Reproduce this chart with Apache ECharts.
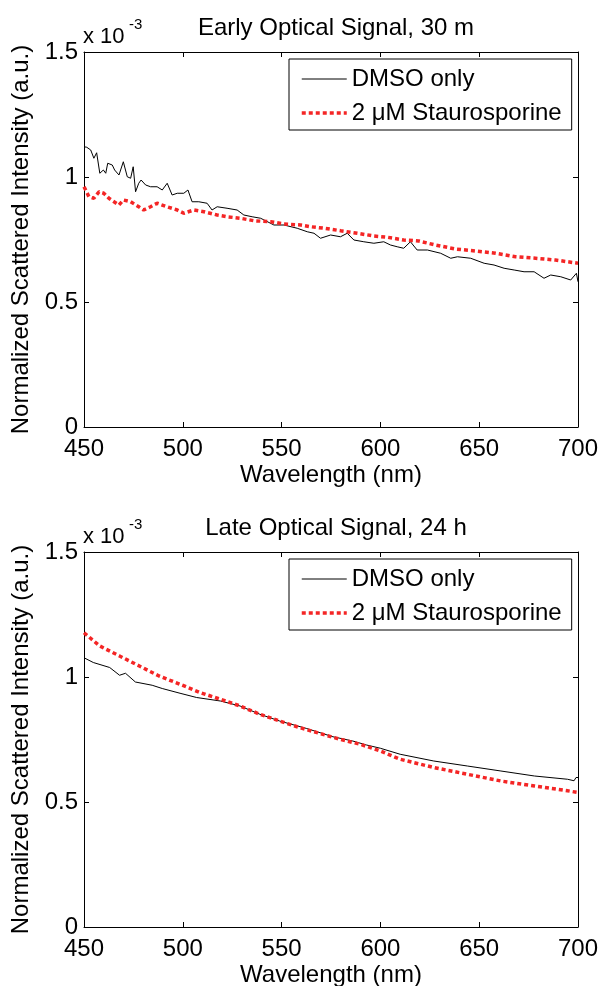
<!DOCTYPE html>
<html><head><meta charset="utf-8">
<script src="https://cdn.jsdelivr.net/npm/echarts@6/dist/echarts.min.js"></script>
<style>html,body{margin:0;padding:0;background:#fff}#c{width:601px;height:986px}</style>
</head><body><div id="c"></div>
<script>
// Wavelength (nm) / normalized scattered intensity (x 1e-3)
const seriesNames = ['DMSO only', '2 \u03bcM Staurosporine'];
const xTicks = [450, 500, 550, 600, 650, 700];
const yTicks = [0, 0.5, 1, 1.5];

const earlyDmsoX = [450,451.4,453.4,455,456.4,458,459.8,461,462,464.3,465.5,467.7,469.9,471.9,473.6,474.9,476.1,477.7,478.9,481.2,483.7,487,489.6,492.1,494.6,497.2,500.5,502.6,504.7,508.1,512.3,514.8,517.4,522.4,527.5,530.9,535.1,539.4,546.1,551.2,557.9,563,566.4,569.7,574.8,579.8,583.2,586.6,591.6,596.7,601.7,605.1,608.5,611.8,615.2,618.6,623.8,630.5,635.6,639,645.7,652.5,657.5,662.6,667.7,672.7,677.8,682.8,686.2,691.3,696.3,699.2,700];
const earlyDmsoY = [1.121,1.119,1.108,1.075,1.097,1.015,1.028,1.015,1.055,1.048,1.028,1.008,1.061,1.001,0.995,1.041,0.941,0.975,0.988,0.968,0.961,0.961,0.948,0.975,0.928,0.935,0.935,0.948,0.901,0.901,0.895,0.868,0.881,0.875,0.868,0.848,0.841,0.835,0.808,0.808,0.795,0.781,0.775,0.755,0.768,0.761,0.775,0.748,0.741,0.735,0.741,0.728,0.721,0.715,0.741,0.708,0.708,0.695,0.675,0.681,0.675,0.655,0.648,0.635,0.628,0.621,0.621,0.595,0.608,0.601,0.588,0.615,0.581];

const earlyStauroX = [450,452.5,455,457.6,460,462.6,465.2,467.7,470,473.6,477.7,480.2,483.7,487,492,497.2,500.5,505.6,510.7,517.4,522.4,529.2,536,544.5,551.2,559.7,564.8,571.5,579.9,588.4,596.7,603.5,611.8,619.4,627.9,638,648.1,658.3,668.4,678.5,688.6,700];
const earlyStauroY = [0.961,0.921,0.915,0.941,0.935,0.915,0.901,0.888,0.908,0.901,0.881,0.868,0.881,0.895,0.881,0.868,0.855,0.868,0.861,0.848,0.841,0.835,0.825,0.821,0.812,0.808,0.801,0.795,0.785,0.775,0.764,0.759,0.748,0.744,0.728,0.712,0.704,0.695,0.681,0.675,0.668,0.655];

const lateDmsoX = [450,454.7,463,468,471,476,484.5,489.6,498.6,507,519,529,539,549,562.7,576,586,593,600,610,627,644,661,678,694.7,698,699,700];
const lateDmsoY = [1.077,1.058,1.038,1.007,1.015,0.980,0.967,0.954,0.935,0.918,0.904,0.884,0.851,0.824,0.794,0.761,0.744,0.728,0.715,0.691,0.664,0.644,0.624,0.604,0.591,0.585,0.598,0.598];

const lateStauroX = [450,458,468,478,488,498.6,508.7,519,529,539,549,559,569,579.5,589.7,600,610,627,644,661,678,694.7,700];
const lateStauroY = [1.177,1.124,1.084,1.044,1.004,0.971,0.938,0.911,0.884,0.851,0.824,0.798,0.775,0.751,0.731,0.704,0.671,0.638,0.611,0.584,0.564,0.545,0.538];

const titles = ['Early Optical Signal, 30 m', 'Late Optical Signal, 24 h'];
const xName = 'Wavelength (nm)';
const yName = 'Normalized Scattered Intensity (a.u.)';

const FONT = '"Liberation Sans", Arial, Helvetica, sans-serif';
const RED = '#f42525';
function zip(xs, ys){ return xs.map((x,i)=>[x, ys[i]]); }

const panels = [
  {top: 52, dmso: zip(earlyDmsoX, earlyDmsoY), st: zip(earlyStauroX, earlyStauroY)},
  {top: 552, dmso: zip(lateDmsoX, lateDmsoY), st: zip(lateStauroX, lateStauroY)}
];

const grid = [], xAxis = [], yAxis = [], series = [], legend = [], title = [], graphic = [];
panels.forEach((p, i) => {
  grid.push({left: 84, top: p.top, width: 494, height: 375, containLabel: false, outerBoundsMode: 'none'});
  const axLine = {show: true, onZero: false, lineStyle: {color: '#000', width: 1}};
  const tick = {show: true, inside: true, length: 5, lineStyle: {color: '#000', width: 1}};
  xAxis.push({type: 'value', gridIndex: i, min: xTicks[0], max: xTicks[xTicks.length-1], interval: 50,
    axisLine: axLine, axisTick: tick, splitLine: {show: false},
    axisLabel: {color: '#000', fontSize: 24, fontFamily: FONT, margin: 10},
    name: xName, nameLocation: 'middle', nameGap: 36,
    nameTextStyle: {color: '#000', fontSize: 24, fontFamily: FONT}});
  xAxis.push({type: 'value', gridIndex: i, position: 'top', min: xTicks[0], max: xTicks[xTicks.length-1], interval: 50,
    axisLine: axLine, axisTick: tick, splitLine: {show: false}, axisLabel: {show: false}});
  yAxis.push({type: 'value', gridIndex: i, min: yTicks[0], max: yTicks[yTicks.length-1], interval: 0.5,
    axisLine: axLine, axisTick: tick, splitLine: {show: false},
    axisLabel: {color: '#000', fontSize: 24, fontFamily: FONT, margin: 6},
    name: yName, nameLocation: 'middle', nameGap: 46, nameRotate: 90,
    nameTextStyle: {color: '#000', fontSize: 24, fontFamily: FONT}});
  yAxis.push({type: 'value', gridIndex: i, position: 'right', min: yTicks[0], max: yTicks[yTicks.length-1], interval: 0.5,
    axisLine: axLine, axisTick: tick, splitLine: {show: false}, axisLabel: {show: false}});
  series.push({type: 'line', name: seriesNames[0], xAxisIndex: 2*i, yAxisIndex: 2*i, data: p.dmso,
    showSymbol: false, symbol: 'none', lineStyle: {color: '#000', width: 1}, itemStyle: {color: '#000'}, animation: false});
  series.push({type: 'line', name: seriesNames[1], xAxisIndex: 2*i, yAxisIndex: 2*i, data: p.st,
    showSymbol: false, symbol: 'none', lineStyle: {color: RED, width: 3.5, type: [4, 3], cap: 'butt'}, itemStyle: {color: RED}, animation: false});
  legend.push({data: seriesNames, orient: 'vertical', left: 289, top: p.top + 7, itemWidth: 45, itemHeight: 14, itemGap: 10,
    padding: [8, 10, 5, 11], borderColor: '#000', borderWidth: 1, backgroundColor: '#fff', borderRadius: 0,
    selectedMode: false,
    itemStyle: {color: 'rgba(0,0,0,0)', borderWidth: 0, opacity: 0},
    lineStyle: {width: 'inherit'},
    textStyle: {color: '#000', fontSize: 24, fontFamily: FONT, lineHeight: 24}});
  title.push({text: titles[i], left: 331, top: p.top - 41, textAlign: 'center',
    textStyle: {color: '#000', fontSize: 24, fontWeight: 'normal', fontFamily: FONT}});
  graphic.push({type: 'text', left: 83, top: p.top - 26, style: {text: 'x 10', fill: '#000', font: '22px ' + FONT}});
  graphic.push({type: 'text', left: 129, top: p.top - 35, style: {text: '-3', fill: '#000', font: '15px ' + FONT}});
});

const chart = echarts.init(document.getElementById('c'), null, {renderer: 'canvas'});
chart.setOption({animation: false, backgroundColor: '#fff', grid, xAxis, yAxis, series, legend, title, graphic});
</script></body></html>
